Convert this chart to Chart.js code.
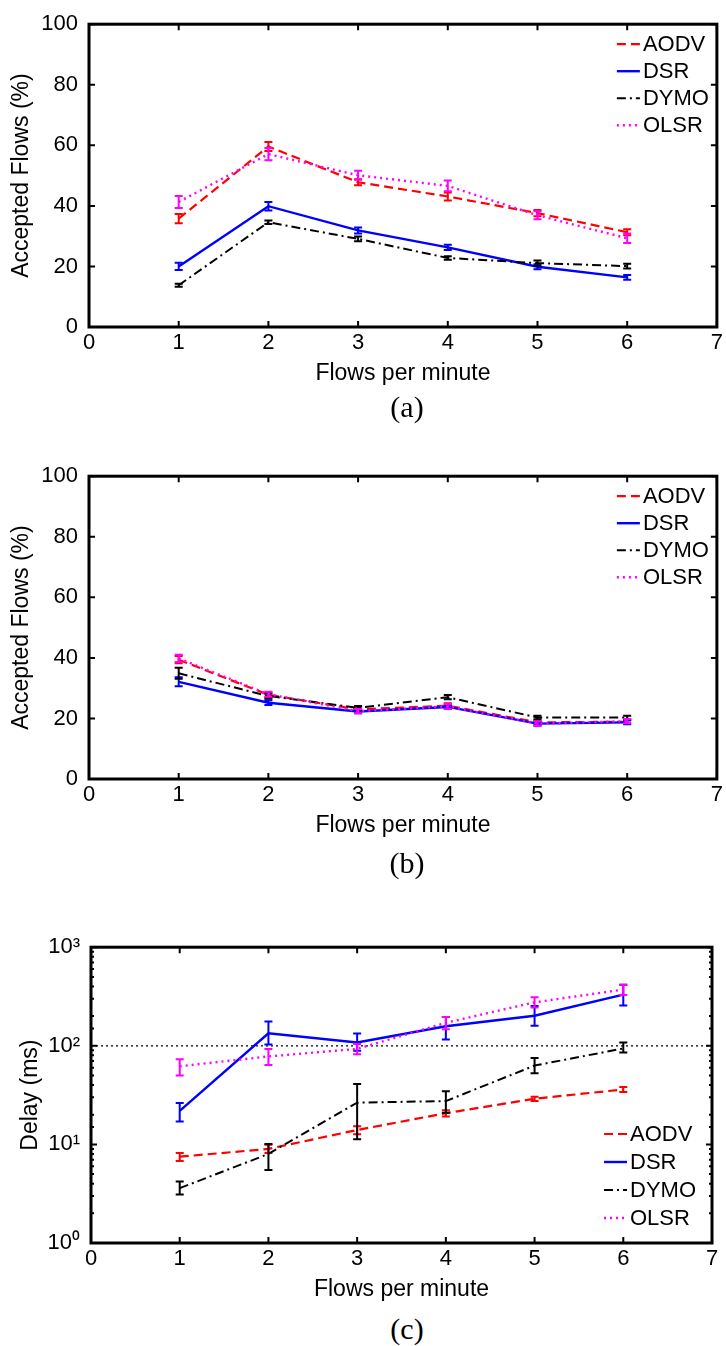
<!DOCTYPE html>
<html lang="en">
<head>
<meta charset="UTF-8" />
<title>Accepted flows and delay vs flows per minute</title>
<script src="https://cdn.jsdelivr.net/npm/chart.js"></script>
<style>
  body { margin: 0; background: #fff; }
  .page { position: relative; width: 726px; height: 1346px; overflow: hidden; }
  .panel { position: absolute; left: 0; }
  .caption {
    position: absolute; left: 357px; width: 100px; text-align: center;
    font-family: "Liberation Serif", "DejaVu Serif", serif; font-size: 30px; line-height: 30px;
  }
</style>
</head>
<body>
<div class="page">
  <canvas id="chartA" class="panel" width="726" height="395" style="top:0px"></canvas>
  <div class="caption" style="top:392px">(a)</div>
  <canvas id="chartB" class="panel" width="726" height="395" style="top:452px"></canvas>
  <div class="caption" style="top:848px">(b)</div>
  <canvas id="chartC" class="panel" width="726" height="388" style="top:923px"></canvas>
  <div class="caption" style="top:1314px">(c)</div>
</div>

<script>
  // x values and axis range
  const flows = [1, 2, 3, 4, 5, 6];
  const xMin = 0, xMax = 7;
  const pctTicks = [0, 20, 40, 60, 80, 100];

  // (a) accepted flows (%) with +/- error
  const aodvA = [35.8, 59.6, 47.8, 43.1, 37.6, 31.3];
  const aodvAErr = [1.5, 1.5, 1.0, 1.3, 1.0, 1.0];
  const dsrA = [20.0, 39.9, 31.9, 26.3, 19.9, 16.4];
  const dsrAErr = [1.2, 1.4, 1.0, 0.9, 0.8, 0.8];
  const dymoA = [13.8, 34.6, 29.1, 22.8, 21.1, 20.1];
  const dymoAErr = [0.5, 0.6, 0.8, 0.6, 0.9, 0.8];
  const olsrA = [41.3, 57.1, 50.1, 46.6, 36.9, 29.3];
  const olsrAErr = [2.0, 2.0, 1.5, 1.8, 1.3, 1.6];

  // (b) accepted flows (%) with +/- error
  const aodvB = [39.4, 27.8, 23.0, 24.2, 18.7, 18.9];
  const aodvBErr = [1.2, 0.8, 0.7, 0.8, 0.7, 0.6];
  const dsrB = [32.1, 25.2, 22.3, 23.8, 18.3, 18.7];
  const dsrBErr = [1.5, 0.8, 0.6, 0.6, 0.6, 0.6];
  const dymoB = [34.9, 27.4, 23.5, 27.0, 20.3, 20.3];
  const dymoBErr = [1.8, 0.8, 0.6, 0.7, 0.6, 0.6];
  const olsrB = [39.8, 28.0, 22.4, 24.0, 18.3, 19.1];
  const olsrBErr = [1.2, 0.8, 0.7, 0.8, 0.8, 0.7];

  // (c) delay (ms), log axis, with low/high error bounds
  const aodvC = [7.5, 9.0, 14.0, 20.7, 29.0, 36.1];
  const aodvCLow = [6.8, 8.2, 12.7, 19.2, 27.5, 34.0];
  const aodvCHigh = [8.2, 9.9, 15.3, 22.2, 30.5, 38.3];
  const dsrC = [21.9, 134, 108, 158, 202, 331];
  const dsrCLow = [17.1, 103, 89, 116, 160, 256];
  const dsrCHigh = [26.3, 176, 133, 196, 253, 416];
  const dymoC = [3.6, 8.0, 26.5, 27.5, 63, 94];
  const dymoCLow = [3.1, 5.5, 11.3, 21.0, 52.6, 85.5];
  const dymoCHigh = [4.2, 10.1, 41.0, 34.6, 75, 108];
  const olsrC = [62, 78, 93, 171, 276, 372];
  const olsrCLow = [50, 64, 82, 147, 245, 327];
  const olsrCHigh = [73, 93, 104, 196, 310, 416];
  const delayLimit = 100;

  const styles = {
    AODV: { color: "#ff0000", dash: [9, 5], width: 2.2, order: 3 },
    DSR: { color: "#0000ff", dash: [], width: 2.4, order: 2 },
    DYMO: { color: "#000000", dash: [9, 4, 2, 4], width: 2, order: 1 },
    OLSR: { color: "#ff00ff", dash: [2, 4], width: 2.4, order: 0 }
  };

  Chart.defaults.font.family = "'Liberation Sans', Arial, Helvetica, sans-serif";
  Chart.defaults.color = "#000";

  function series(name, values, low, high) {
    const s = styles[name];
    return {
      label: name,
      data: flows.map((x, i) => ({ x: x, y: values[i] })),
      errLow: low,
      errHigh: high,
      inLegend: true,
      borderColor: s.color,
      borderDash: s.dash,
      borderWidth: s.width,
      pointRadius: 0,
      fill: false,
      tension: 0,
      order: s.order
    };
  }

  function symmetric(name, values, err) {
    return series(name, values, values.map((v, i) => v - err[i]), values.map((v, i) => v + err[i]));
  }

  // error bars, drawn right after each line so stacking follows the lines
  const errorBars = {
    id: "errorBars",
    afterDatasetDraw(chart, args) {
      const ds = chart.data.datasets[args.index];
      if (!ds.errLow) return;
      const { ctx, scales: { x, y } } = chart;
      ctx.save();
      ctx.strokeStyle = ds.borderColor;
      ctx.lineWidth = 2;
      ctx.setLineDash([]);
      ds.data.forEach((p, i) => {
        const px = x.getPixelForValue(p.x);
        const top = y.getPixelForValue(ds.errHigh[i]);
        const bot = y.getPixelForValue(ds.errLow[i]);
        ctx.beginPath();
        ctx.moveTo(px, top); ctx.lineTo(px, bot);
        ctx.moveTo(px - 4, top); ctx.lineTo(px + 4, top);
        ctx.moveTo(px - 4, bot); ctx.lineTo(px + 4, bot);
        ctx.stroke();
      });
      ctx.restore();
    }
  };

  // box frame with inward ticks on all four sides
  const frame = {
    id: "frame",
    afterDraw(chart) {
      const { ctx, chartArea: a, scales: { x, y } } = chart;
      ctx.save();
      ctx.strokeStyle = "#000";
      ctx.lineWidth = 2;
      ctx.setLineDash([]);
      ctx.beginPath();
      x.ticks.forEach((t) => {
        const px = x.getPixelForValue(t.value);
        ctx.moveTo(px, a.bottom); ctx.lineTo(px, a.bottom - 6);
        ctx.moveTo(px, a.top); ctx.lineTo(px, a.top + 6);
      });
      y.ticks.forEach((t) => {
        const py = y.getPixelForValue(t.value);
        const len = y.type === "logarithmic" && !t.major ? 3 : 6;
        ctx.moveTo(a.left, py); ctx.lineTo(a.left + len, py);
        ctx.moveTo(a.right, py); ctx.lineTo(a.right - len, py);
      });
      ctx.stroke();
      ctx.lineWidth = 3;
      ctx.strokeRect(a.left, a.top, a.right - a.left, a.bottom - a.top);
      ctx.restore();
    }
  };

  // legend with line samples inside the plot box
  const lineLegend = {
    id: "lineLegend",
    afterDraw(chart, args, opts) {
      const { ctx, chartArea: a } = chart;
      const items = chart.data.datasets.filter((d) => d.inLegend);
      const y0 = opts.fromBottom
        ? a.bottom - opts.offsetY - (items.length - 1) * opts.rowGap
        : a.top + opts.offsetY;
      const x0 = a.right - opts.offsetX;
      ctx.save();
      ctx.font = "22px 'Liberation Sans', Arial, sans-serif";
      ctx.textBaseline = "middle";
      ctx.textAlign = "left";
      ctx.fillStyle = "#000";
      items.forEach((d, i) => {
        const yy = y0 + i * opts.rowGap;
        ctx.strokeStyle = d.borderColor;
        ctx.lineWidth = d.borderWidth;
        ctx.setLineDash(d.borderDash);
        ctx.beginPath();
        ctx.moveTo(x0, yy); ctx.lineTo(x0 + 23, yy);
        ctx.stroke();
        ctx.fillText(d.label, x0 + 26, yy + 1);
      });
      ctx.restore();
    }
  };

  function makeOptions(yScale, yWidth, yTitle, yTitlePad, rightPad, legendOpts) {
    return {
      responsive: false,
      animation: false,
      layout: { padding: { top: 18, right: rightPad, left: 0, bottom: 0 } },
      plugins: {
        legend: { display: false },
        tooltip: { enabled: false },
        lineLegend: legendOpts
      },
      scales: {
        x: {
          type: "linear",
          min: xMin,
          max: xMax,
          grid: { display: false, drawTicks: false },
          border: { display: false },
          ticks: { stepSize: 1, padding: 3, font: { size: 22 } },
          title: {
            display: true,
            text: "Flows per minute",
            font: { size: 23 },
            padding: { top: 0, bottom: 8 }
          },
          afterFit(scale) { scale.height = 68; }
        },
        y: Object.assign({
          grid: { display: false, drawTicks: false },
          border: { display: false },
          title: {
            display: true,
            text: yTitle,
            font: { size: 23 },
            padding: { top: yTitlePad, bottom: 0 }
          },
          afterFit(scale) { scale.width = yWidth; }
        }, yScale)
      }
    };
  }

  const pctScale = {
    type: "linear",
    min: 0,
    max: 100,
    ticks: { stepSize: 20, padding: 11, font: { size: 22 } }
  };

  const sup = { 0: "\u2070", 1: "\u00b9", 2: "\u00b2", 3: "\u00b3" };
  const logScale = {
    type: "logarithmic",
    min: 1,
    max: 1000,
    ticks: {
      autoSkip: false,
      padding: 11,
      font: { size: 22 },
      callback: (v) => {
        const e = Math.log10(v);
        return Math.abs(e - Math.round(e)) < 1e-9 ? "10" + sup[Math.round(e)] : "";
      }
    }
  };

  const topLegend = { fromBottom: false, offsetY: 20, offsetX: 100, rowGap: 27 };

  new Chart(document.getElementById("chartA"), {
    type: "line",
    data: {
      datasets: [
        symmetric("AODV", aodvA, aodvAErr),
        symmetric("DSR", dsrA, dsrAErr),
        symmetric("DYMO", dymoA, dymoAErr),
        symmetric("OLSR", olsrA, olsrAErr)
      ]
    },
    options: makeOptions(pctScale, 89, "Accepted Flows (%)", 8, 7, topLegend),
    plugins: [errorBars, frame, lineLegend]
  });

  new Chart(document.getElementById("chartB"), {
    type: "line",
    data: {
      datasets: [
        symmetric("AODV", aodvB, aodvBErr),
        symmetric("DSR", dsrB, dsrBErr),
        symmetric("DYMO", dymoB, dymoBErr),
        symmetric("OLSR", olsrB, olsrBErr)
      ]
    },
    options: makeOptions(pctScale, 89, "Accepted Flows (%)", 8, 7, topLegend),
    plugins: [errorBars, frame, lineLegend]
  });

  new Chart(document.getElementById("chartC"), {
    type: "line",
    data: {
      datasets: [
        series("AODV", aodvC, aodvCLow, aodvCHigh),
        series("DSR", dsrC, dsrCLow, dsrCHigh),
        series("DYMO", dymoC, dymoCLow, dymoCHigh),
        series("OLSR", olsrC, olsrCLow, olsrCHigh),
        {
          label: "limit",
          data: [{ x: xMin, y: delayLimit }, { x: xMax, y: delayLimit }],
          borderColor: "#000",
          borderWidth: 1.3,
          borderDash: [2, 3],
          pointRadius: 0,
          fill: false,
          order: 10
        }
      ]
    },
    options: makeOptions(logScale, 91, "Delay (ms)", 17, 14,
      { fromBottom: true, offsetY: 25, offsetX: 108, rowGap: 28 }),
    plugins: [errorBars, frame, lineLegend]
  });
</script>
</body>
</html>
